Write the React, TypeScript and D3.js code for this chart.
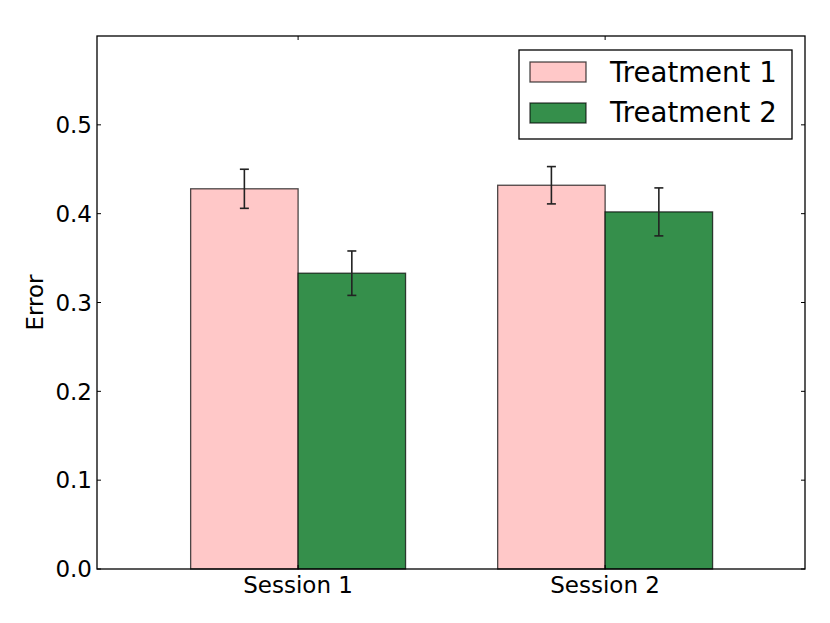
import React from 'react';
import * as d3 from 'd3';

// chart data
const categories = ['Session 1', 'Session 2'];
const treatment1 = [0.428, 0.432];
const treatment1Err = [0.022, 0.021];
const treatment2 = [0.333, 0.402];
const treatment2Err = [0.025, 0.027];
const yTicks = [0.0, 0.1, 0.2, 0.3, 0.4, 0.5];
const seriesNames = ['Treatment 1', 'Treatment 2'];

const W = 830;
const H = 623;
const margin = { top: 36, right: 25, bottom: 54, left: 97 };
const barWidth = 0.35;
const colors = ['#ffc8c8', '#358f4b'];
const font = 'DejaVu Sans, sans-serif';

export default function App() {
  const x = d3.scaleLinear().domain([-0.655, 1.651]).range([margin.left, W - margin.right]);
  const y = d3.scaleLinear().domain([0, 0.6]).range([H - margin.bottom, margin.top]);
  const x0 = margin.left;
  const x1 = W - margin.right;
  const y0 = H - margin.bottom;
  const y1 = margin.top;

  const series = [
    { values: treatment1, errs: treatment1Err, offset: -barWidth, color: colors[0] },
    { values: treatment2, errs: treatment2Err, offset: 0, color: colors[1] },
  ];

  return (
    <svg width={W} height={H} style={{ position: 'absolute', left: 0, top: 0, background: '#fff' }}>
      {/* bars */}
      {series.map((s, si) =>
        categories.map((c, i) => {
          const left = x(i + s.offset);
          const right = x(i + s.offset + barWidth);
          return (
            <rect
              key={`bar-${si}-${i}`}
              x={left}
              y={y(s.values[i])}
              width={right - left}
              height={y(0) - y(s.values[i])}
              fill={s.color}
              stroke="rgba(0,0,0,0.7)"
              strokeWidth={1.3}
            />
          );
        })
      )}

      {/* error bars */}
      {series.map((s, si) =>
        categories.map((c, i) => {
          const cx = x(i + s.offset + barWidth / 2);
          const top = y(s.values[i] + s.errs[i]);
          const bot = y(s.values[i] - s.errs[i]);
          return (
            <g key={`err-${si}-${i}`} stroke="#222" strokeWidth={1.6}>
              <line x1={cx} x2={cx} y1={top} y2={bot} />
              <line x1={cx - 4.5} x2={cx + 4.5} y1={top} y2={top} />
              <line x1={cx - 4.5} x2={cx + 4.5} y1={bot} y2={bot} />
            </g>
          );
        })
      )}

      {/* y ticks, left and right */}
      {yTicks.map((t) => (
        <g key={`yt-${t}`}>
          <line x1={x0} x2={x0 + 4} y1={y(t)} y2={y(t)} stroke="#000" strokeWidth={1} />
          <line x1={x1} x2={x1 - 4} y1={y(t)} y2={y(t)} stroke="#000" strokeWidth={1} />
          <text
            x={x0 - 5}
            y={y(t)}
            dy="0.36em"
            textAnchor="end"
            fontFamily={font}
            fontSize={23}
            fill="#000"
          >
            {d3.format('.1f')(t)}
          </text>
        </g>
      ))}

      {/* x ticks, top and bottom */}
      {categories.map((c, i) => (
        <g key={`xt-${i}`}>
          <line x1={x(i)} x2={x(i)} y1={y1} y2={y1 + 4} stroke="#000" strokeWidth={1} />
          <line x1={x(i)} x2={x(i)} y1={y0} y2={y0 - 4} stroke="#000" strokeWidth={1} />
          <text
            x={x(i)}
            y={y0 + 24}
            textAnchor="middle"
            fontFamily={font}
            fontSize={23}
            fill="#000"
          >
            {c}
          </text>
        </g>
      ))}

      {/* frame */}
      <rect x={x0} y={y1} width={x1 - x0} height={y0 - y1} fill="none" stroke="#000" strokeWidth={1.3} />

      {/* y axis label */}
      <text
        transform={`translate(${43},${(y0 + y1) / 2}) rotate(-90)`}
        textAnchor="middle"
        fontFamily={font}
        fontSize={23}
        fill="#000"
      >
        Error
      </text>

      {/* legend */}
      <g>
        <rect x={519} y={50} width={273} height={89} fill="#fff" stroke="#000" strokeWidth={1.3} />
        {seriesNames.map((name, i) => (
          <g key={`lg-${i}`}>
            <rect
              x={530}
              y={62 + i * 41}
              width={56}
              height={20}
              fill={colors[i]}
              stroke="rgba(0,0,0,0.7)"
              strokeWidth={1.3}
            />
            <text
              x={610}
              y={82 + i * 40}
              fontFamily={font}
              fontSize={27.6}
              fill="#000"
            >
              {name}
            </text>
          </g>
        ))}
      </g>
    </svg>
  );
}
